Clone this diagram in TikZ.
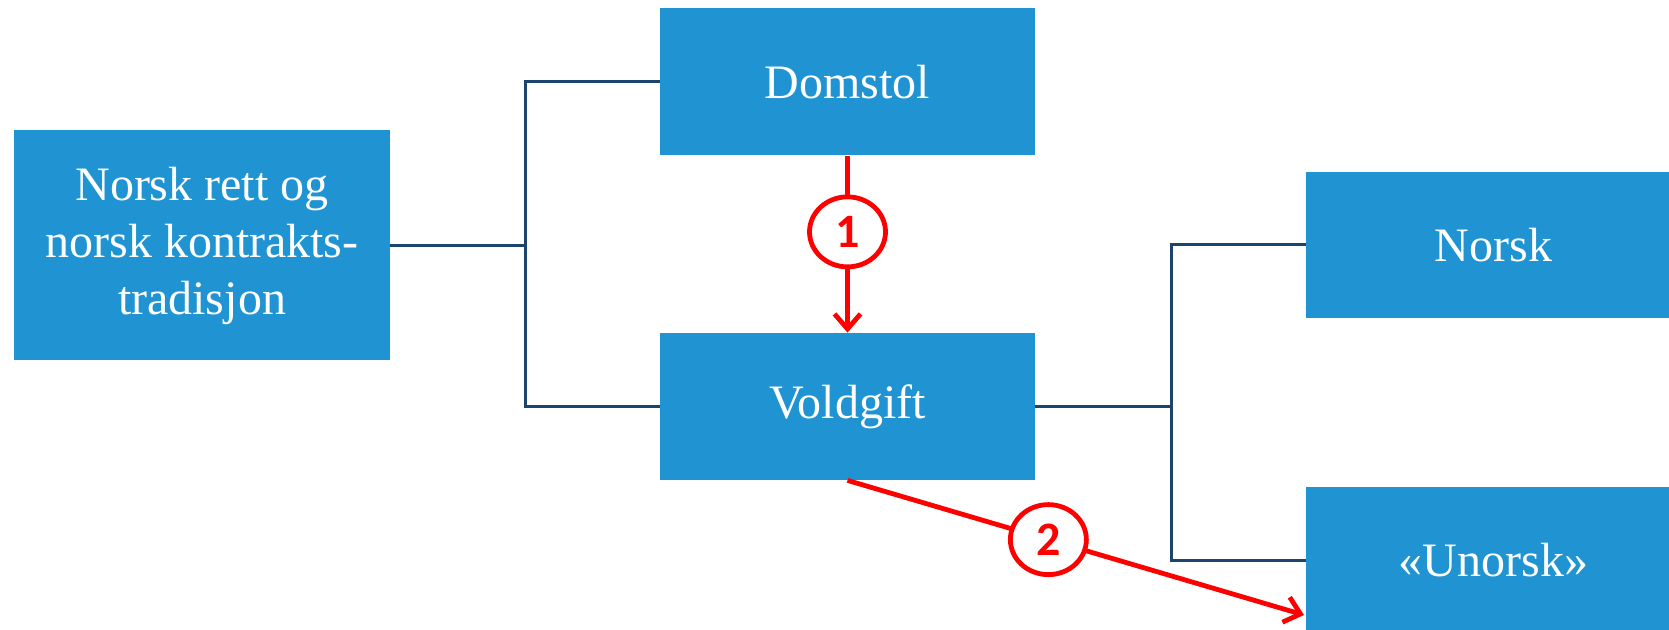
\documentclass[tikz,border=0pt]{standalone}
\usepackage{fontspec}
\usepackage{tikz}
\usetikzlibrary{arrows.meta,shapes.geometric}
\setmainfont{Liberation Serif}
\newfontfamily\numfont{Carlito}
\definecolor{boxblue}{RGB}{32,148,210}
\definecolor{linkblue}{RGB}{28,69,110}
\definecolor{markred}{RGB}{255,0,0}

\begin{document}
\begin{tikzpicture}[x=0.5pt, y=-0.5pt,
	box/.style={rectangle, fill=boxblue, text=white, align=center, inner sep=0pt, font=\fontsize{24}{28.5}\selectfont},
	conn/.style={draw=linkblue, line width=1.5pt},
	redarr/.style={draw=markred, line width=2.4pt, -{Straight Barb[length=7.5pt, width=13pt]}},
	numcirc/.style={ellipse, draw=markred, line width=2.4pt, fill=white, text=markred, minimum width=38pt, minimum height=35pt, inner sep=0pt, font=\numfont\bfseries\fontsize{24}{24}\selectfont}]
		\clip (0,0) rectangle (1669,630);

		\draw 
		(202, 245.5) node [box, minimum width=188pt, minimum height=115pt] (rett) {Norsk rett og\\norsk kontrakts-\\tradisjon}
		(847.5, 82) node [box, minimum width=187.5pt, minimum height=73.5pt] (domstol) {Domstol}
		(847.5, 406.5) node [box, minimum width=187.5pt, minimum height=73.5pt] (voldgift) {Voldgift}
		(1493.5, 245) node [box, minimum width=187.5pt, minimum height=73pt] (norsk) {Norsk}
		(1493.5, 560.5) node [box, minimum width=187.5pt, minimum height=73.5pt] (unorsk) {«Unorsk»};

		\coordinate (forkL) at (525, 245.5);
		\coordinate (forkR) at (1171, 406.5);
		\coordinate (tip2) at (1304, 615);

		\draw[conn] (rett.east) -- (forkL);
		\draw[conn] (domstol.west) -| (forkL);
		\draw[conn] (voldgift.west) -| (forkL);
		\draw[conn] (voldgift.east) -- (forkR);
		\draw[conn] (norsk.west) -| (forkR);
		\draw[conn] (unorsk.west) -| (forkR);

		\draw[redarr] (domstol.south) -- node [numcirc, pos=0.43] (one) {1} (voldgift.north);
		\draw[redarr] (voldgift.south) -- node [numcirc, pos=0.44] (two) {2} (tip2);
	\end{tikzpicture}
\end{document}
